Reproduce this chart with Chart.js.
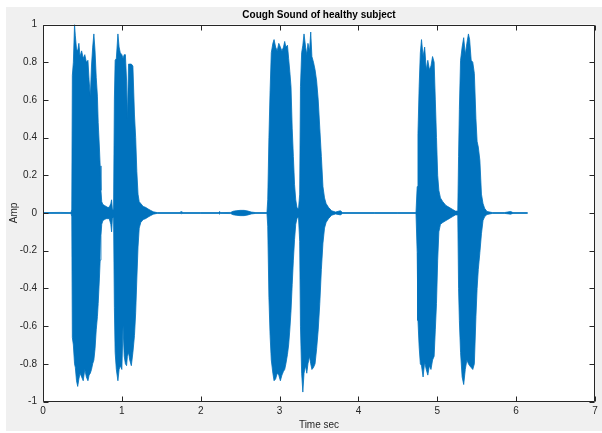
<!DOCTYPE html>
<html>
<head>
<meta charset="utf-8">
<script src="https://cdn.jsdelivr.net/npm/chart.js@4"></script>
<style>
  html, body { margin: 0; padding: 0; background: #ffffff; }
  #wrap { width: 602px; height: 433px; position: relative; }
</style>
</head>
<body>
<div id="wrap"><canvas id="c" width="602" height="433"></canvas></div>
<script>
// ---- Data (time in seconds, amplitude envelope) ----
const times = [
  0.000, 0.216, 0.355,
  0.365, 0.372, 0.385, 0.400, 0.410, 0.425, 0.440, 0.455, 0.470, 0.490, 0.510, 0.530, 0.550, 0.570, 0.585, 0.600, 0.615, 0.630, 0.645, 0.660, 0.675, 0.690, 0.700, 0.715, 0.725, 0.735, 0.745, 0.760, 0.780, 0.800, 0.820, 0.840, 0.860, 0.870, 0.880, 0.895,
  0.905, 0.915, 0.930, 0.950, 0.965, 0.980, 1.000, 1.015, 1.030, 1.045, 1.060, 1.070, 1.085, 1.100, 1.120, 1.140, 1.160, 1.175, 1.190, 1.205, 1.220, 1.240, 1.270, 1.300, 1.330, 1.360, 1.400, 1.450,
  1.740, 1.750, 1.760, 2.000, 2.230, 2.240, 2.250, 2.380, 2.410, 2.450, 2.500, 2.550, 2.600, 2.640, 2.700, 2.840,
  2.850, 2.865, 2.880, 2.895, 2.915, 2.930, 2.950, 2.970, 2.990, 3.010, 3.030, 3.050, 3.065, 3.080, 3.100, 3.115, 3.130, 3.145, 3.160, 3.175, 3.190, 3.205, 3.220, 3.240,
  3.255, 3.265, 3.280, 3.295, 3.310, 3.330, 3.345, 3.360, 3.380, 3.395, 3.410, 3.430, 3.450, 3.470, 3.490, 3.510, 3.530, 3.550, 3.570, 3.590, 3.620, 3.660, 3.710, 3.770, 3.800,
  4.200, 4.500, 4.730,
  4.745, 4.755, 4.770, 4.785, 4.800, 4.820, 4.840, 4.860, 4.880, 4.900, 4.920, 4.940, 4.960, 4.975, 4.990, 5.005, 5.020, 5.040, 5.070, 5.110, 5.150, 5.190, 5.230, 5.260,
  5.270, 5.280, 5.295, 5.315, 5.335, 5.355, 5.375, 5.395, 5.410, 5.430, 5.450, 5.470, 5.490, 5.505, 5.520, 5.540, 5.560, 5.580, 5.600, 5.630,
  5.700, 5.850, 5.930, 5.960, 6.146
];
const upper = [
  0.002, 0.003, 0.002,
  0.02, 0.73, 0.80, 1.00, 0.94, 0.87, 0.86, 0.90, 0.83, 0.86, 0.82, 0.84, 0.80, 0.81, 0.70, 0.62, 0.78, 0.88, 0.95, 0.86, 0.72, 0.62, 0.48, 0.35, 0.25, 0.12, 0.06, 0.045, 0.04, 0.035, 0.03, 0.03, 0.05, 0.07, 0.02, 0.02,
  0.60, 0.81, 0.82, 0.95, 0.88, 0.85, 0.84, 0.82, 0.84, 0.84, 0.70, 0.50, 0.79, 0.79, 0.79, 0.78, 0.52, 0.40, 0.22, 0.10, 0.06, 0.05, 0.035, 0.03, 0.022, 0.015, 0.006, 0.002,
  0.002, 0.008, 0.002, 0.002, 0.002, 0.008, 0.002, 0.003, 0.009, 0.012, 0.014, 0.014, 0.010, 0.005, 0.002, 0.002,
  0.07, 0.40, 0.65, 0.85, 0.90, 0.92, 0.88, 0.86, 0.90, 0.88, 0.86, 0.88, 0.91, 0.88, 0.89, 0.82, 0.75, 0.67, 0.45, 0.30, 0.15, 0.07, 0.03, 0.02,
  0.10, 0.67, 0.85, 0.89, 0.95, 0.88, 0.84, 0.90, 0.86, 0.96, 0.83, 0.80, 0.76, 0.70, 0.60, 0.45, 0.30, 0.14, 0.08, 0.05, 0.03, 0.012, 0.005, 0.012, 0.002,
  0.002, 0.002, 0.002,
  0.14, 0.42, 0.67, 0.85, 0.92, 0.83, 0.88, 0.76, 0.81, 0.76, 0.78, 0.83, 0.80, 0.60, 0.40, 0.20, 0.12, 0.08, 0.06, 0.04, 0.03, 0.02, 0.01, 0.01,
  0.30, 0.55, 0.81, 0.88, 0.93, 0.84, 0.90, 0.95, 0.92, 0.81, 0.80, 0.74, 0.50, 0.38, 0.35, 0.28, 0.10, 0.05, 0.025, 0.008,
  0.002, 0.002, 0.008, 0.002, 0.002
];
const lower = [
  -0.002, -0.002, -0.002,
  -0.02, -0.66, -0.70, -0.80, -0.82, -0.89, -0.92, -0.88, -0.85, -0.87, -0.89, -0.83, -0.87, -0.89, -0.86, -0.85, -0.83, -0.80, -0.78, -0.72, -0.62, -0.55, -0.48, -0.35, -0.25, -0.12, -0.06, -0.04, -0.035, -0.03, -0.03, -0.03, -0.06, -0.10, -0.03, -0.02,
  -0.50, -0.74, -0.83, -0.89, -0.83, -0.81, -0.83, -0.60, -0.76, -0.80, -0.81, -0.76, -0.74, -0.78, -0.81, -0.74, -0.65, -0.53, -0.35, -0.18, -0.08, -0.05, -0.035, -0.03, -0.022, -0.015, -0.006, -0.002,
  -0.002, -0.004, -0.002, -0.002, -0.002, -0.006, -0.002, -0.003, -0.009, -0.012, -0.014, -0.014, -0.010, -0.005, -0.002, -0.002,
  -0.07, -0.45, -0.65, -0.78, -0.85, -0.89, -0.88, -0.85, -0.86, -0.89, -0.86, -0.84, -0.83, -0.80, -0.75, -0.70, -0.62, -0.52, -0.38, -0.25, -0.14, -0.06, -0.03, -0.02,
  -0.15, -0.60, -0.85, -0.95, -0.85, -0.81, -0.85, -0.80, -0.76, -0.80, -0.83, -0.82, -0.80, -0.72, -0.62, -0.48, -0.30, -0.16, -0.08, -0.05, -0.03, -0.012, -0.005, -0.010, -0.002,
  -0.002, -0.002, -0.002,
  -0.21, -0.57, -0.71, -0.80, -0.81, -0.87, -0.79, -0.83, -0.86, -0.81, -0.83, -0.78, -0.76, -0.62, -0.48, -0.25, -0.10, -0.06, -0.05, -0.04, -0.03, -0.02, -0.01, -0.01,
  -0.40, -0.57, -0.74, -0.87, -0.91, -0.83, -0.78, -0.80, -0.81, -0.82, -0.83, -0.80, -0.55, -0.40, -0.30, -0.21, -0.11, -0.04, -0.02, -0.008,
  -0.002, -0.002, -0.006, -0.002, -0.002
];
const xTicks = [0, 1, 2, 3, 4, 5, 6, 7];
const xTickLabels = ['0', '1', '2', '3', '4', '5', '6', '7'];
const yTicks = [-1, -0.8, -0.6, -0.4, -0.2, 0, 0.2, 0.4, 0.6, 0.8, 1];
const yTickLabels = ['-1', '-0.8', '-0.6', '-0.4', '-0.2', '0', '0.2', '0.4', '0.6', '0.8', '1'];
const chartTitle = 'Cough Sound of healthy subject';
const xTitle = 'Time sec';
const yTitle = 'Amp';

// ---- Build point tables from the arrays ----
const upperPts = times.map((t, i) => ({ x: t, y: upper[i] }));
const lowerPts = times.map((t, i) => ({ x: t, y: lower[i] }));

const LINE = '#0072BD';
const AXIS = '#262626';
const FONT = '"Liberation Sans", Arial, Helvetica, sans-serif';

const frame = {
  id: 'frame',
  beforeDraw(chart) {
    const { ctx, chartArea: a, width, height } = chart;
    ctx.save();
    ctx.fillStyle = '#ffffff';
    ctx.fillRect(0, 0, width, height);
    ctx.fillStyle = '#f0f0f0';
    ctx.fillRect(6, 7, width - 6, height - 9);
    ctx.fillStyle = '#ffffff';
    ctx.fillRect(a.left, a.top, a.right - a.left, a.bottom - a.top);
    ctx.restore();
  },
  afterDraw(chart) {
    const { ctx, chartArea: a, scales } = chart;
    ctx.save();
    ctx.strokeStyle = AXIS;
    ctx.lineWidth = 1;
    ctx.beginPath();
    const L = Math.round(a.left) + 0.5, R = Math.round(a.right) - 0.5;
    const T = Math.round(a.top) + 0.5, B = Math.round(a.bottom) - 0.5;
    ctx.rect(L, T, R - L, B - T);
    const tl = 5;
    scales.x.ticks.forEach(tk => {
      const px = Math.round(scales.x.getPixelForValue(tk.value)) + 0.5;
      ctx.moveTo(px, B); ctx.lineTo(px, B - tl);
      ctx.moveTo(px, T); ctx.lineTo(px, T + tl);
    });
    scales.y.ticks.forEach(tk => {
      const py = Math.round(scales.y.getPixelForValue(tk.value)) + 0.5;
      ctx.moveTo(L, py); ctx.lineTo(L + tl, py);
      ctx.moveTo(R, py); ctx.lineTo(R - tl, py);
    });
    ctx.stroke();
    ctx.restore();
  }
};

new Chart(document.getElementById('c'), {
  type: 'line',
  data: {
    datasets: [
      { data: upperPts, borderColor: LINE, backgroundColor: LINE, borderWidth: 0.8, pointRadius: 0, fill: '+1', tension: 0 },
      { data: lowerPts, borderColor: LINE, backgroundColor: LINE, borderWidth: 0.8, pointRadius: 0, fill: false, tension: 0 }
    ]
  },
  options: {
    responsive: false,
    animation: false,
    events: [],
    layout: { padding: { top: 0, left: 0, right: 7, bottom: 0 } },
    plugins: {
      legend: { display: false },
      tooltip: { enabled: false },
      title: {
        display: true, text: chartTitle, fullSize: false, color: '#000000',
        font: { family: FONT, size: 10, weight: 'bold' },
        padding: { top: 9.5, bottom: 3 }
      }
    },
    scales: {
      x: {
        type: 'linear', min: 0, max: 7,
        afterBuildTicks: s => { s.ticks = xTicks.map(v => ({ value: v })); },
        afterFit: s => { s.height = 31.5; },
        grid: { display: false, drawTicks: false },
        border: { display: false },
        ticks: {
          color: AXIS, padding: 4, maxRotation: 0, autoSkip: false,
          font: { family: FONT, size: 10 },
          callback: (v) => xTickLabels[xTicks.indexOf(v)]
        },
        title: { display: true, text: xTitle, color: AXIS, font: { family: FONT, size: 10 }, padding: { top: 0, bottom: 2 } }
      },
      y: {
        type: 'linear', min: -1, max: 1,
        afterBuildTicks: s => { s.ticks = yTicks.map(v => ({ value: v })); },
        afterFit: s => { s.width = 43; },
        grid: { display: false, drawTicks: false },
        border: { display: false },
        ticks: {
          color: AXIS, padding: 6, autoSkip: false,
          font: { family: FONT, size: 10 },
          callback: (v) => { const i = yTicks.findIndex(t => Math.abs(t - v) < 1e-9); return i >= 0 ? yTickLabels[i] : ''; }
        },
        title: { display: true, text: yTitle, color: AXIS, font: { family: FONT, size: 10 }, padding: { top: 8, bottom: 0 } }
      }
    }
  },
  plugins: [frame]
});
</script>
</body>
</html>
